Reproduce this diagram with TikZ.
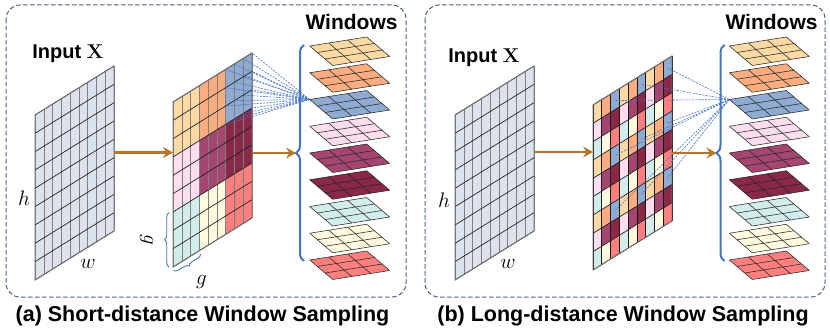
\RequirePackage{fix-cm}
\documentclass[tikz,border=0pt]{standalone}
\usepackage[no-math]{fontspec}
\usetikzlibrary{arrows.meta,decorations.pathreplacing}
\newfontfamily\lsans{Liberation Sans}
\definecolor{w0}{HTML}{FDD9A3}
\definecolor{w1}{HTML}{FBAD80}
\definecolor{w2}{HTML}{90ABD2}
\definecolor{w3}{HTML}{FEDDEE}
\definecolor{w4}{HTML}{A54671}
\definecolor{w5}{HTML}{8A2848}
\definecolor{w6}{HTML}{D3EDEC}
\definecolor{w7}{HTML}{FFFADF}
\definecolor{w8}{HTML}{FF7F7F}
\definecolor{win}{HTML}{DDE3EE}
\definecolor{arrowc}{HTML}{B5762C}
\definecolor{braceb}{HTML}{4472C4}
\definecolor{framec}{HTML}{4A5E85}
\def\cw{8.778}
\def\sk{5.444}
\def\rh{18.333}
% grid: #1,#2 top-left corner, #3 colour mode (0 input, 1 blocks, 2 strided), #4 style of vertical lines
\newcommand\mygrid[4]{%
  \foreach \r in {0,...,8}{\foreach \c in {0,...,8}{%
    \ifcase#3\relax \def\k{in}\or
      \pgfmathtruncatemacro\k{3*int(\r/3)+int(\c/3)}\or
      \pgfmathtruncatemacro\k{3*mod(\r,3)+mod(\c,3)}\fi
    \fill[w\k] (#1+\c*\cw, #2-\c*\sk+\r*\rh) -- ++(\cw,-\sk) -- ++(0,\rh) -- ++(-\cw,\sk) -- cycle;
  }}%
  \foreach \i in {0,...,9}{%
    \draw[#4] (#1+\i*\cw, #2-\i*\sk) -- ++(0,9*\rh);
  }%
  \foreach \i in {0,...,9}{%
    \draw[hline] (#1, #2+\i*\rh) -- ++(9*\cw,-9*\sk);
  }%
  \draw[gborder] (#1,#2) -- ++(9*\cw,-9*\sk) -- ++(0,9*\rh) -- ++(-9*\cw,9*\sk) -- cycle;
}
% window tile: #1,#2 left vertex, #3 colour
\newcommand\mytile[3]{%
  \fill[#3] (#1,#2) -- ++(57,-9) -- ++(23,19.5) -- ++(-57,9) -- cycle;
  \foreach \i in {0,...,3}{%
    \draw[tline] (#1+\i*19, #2-\i*3) -- ++(23,19.5);
    \draw[tline] (#1+\i*23/3, #2+\i*6.5) -- ++(57,-9);
  }%
}
\tikzset{
  vline/.style={line width=0.55pt, draw=black!50},
  hline/.style={line width=0.65pt, draw=black!90},
  gbline/.style={line width=0.7pt, draw=black!90},
  gborder/.style={line width=0.9pt, draw=black!55},
  tline/.style={line width=0.55pt, draw=black!85},
  arrowstyle/.style={draw=arrowc, line width=2.4pt, -{Stealth[length=10pt,width=11pt,inset=3.5pt]}},
  dl/.style={draw=braceb, line width=0.6pt, dash pattern=on 2pt off 1.2pt},
  bigbrace/.style={draw=braceb, line width=2pt, decorate, decoration={brace, amplitude=8pt}},
  smallbrace/.style={draw=braceb, line width=0.9pt, decorate, decoration={brace, amplitude=4.5pt}},
  paneframe/.style={draw=framec, line width=1pt, dash pattern=on 4.5pt off 2.5pt, rounded corners=14pt},
  lbl/.style={font=\lsans\bfseries\fontsize{20}{20}\selectfont, inner sep=0pt, anchor=base},
  wlbl/.style={font=\lsans\bfseries\fontsize{21}{21}\selectfont, inner sep=0pt, anchor=base},
  capstyle/.style={font=\lsans\bfseries\fontsize{21.5}{21.5}\selectfont, inner sep=0pt, anchor=base},
  ml/.style={font=\fontsize{21}{21}\selectfont, inner sep=0pt}
}
\begin{document}
\begin{tikzpicture}[x=1pt,y=-1pt]
\useasboundingbox (0,0) rectangle (830,334);
% frames
\draw[paneframe] (6,5) rectangle (406,297);
\draw[paneframe] (425,5) rectangle (825,297);
% ---------------- panel (a) ----------------
\mygrid{35}{115}{0}{vline}
\mygrid{173}{102}{1}{vline}
\foreach \k in {0,...,8}{\coordinate (ta\k) at (309.7,46+26.75*\k);}
\foreach \r in {0,...,3}{\foreach \c in {6,...,9}{%
  \coordinate (va-\r-\c) at (173+\c*\cw, 102-\c*\sk+\r*\rh);
  \draw[dl] (ta2) -- (va-\r-\c);
}}
\foreach \k in {0,...,8}{\mytile{309.7}{46+26.75*\k}{w\k}}
\coordinate (ina) at (114,152.5);
\coordinate (mida-w) at (173,152.5);
\coordinate (mida-e) at (252,153);
\coordinate (bra) at (296,153);
\coordinate (bra-b) at (304,261);
\coordinate (bra-t) at (304,45);
\draw[arrowstyle] (ina) -- (mida-w);
\draw[arrowstyle] (mida-e) -- (bra);
\draw[bigbrace] (bra-b) -- (bra-t);
\coordinate (ga1) at (169,267);
\coordinate (ga2) at (169,212.5);
\draw[smallbrace] (ga1) -- (ga2);
\coordinate (gb1) at (200.5,254);
\coordinate (gb2) at (173.5,270.5);
\draw[smallbrace] (gb1) -- (gb2);
\node[ml, rotate=-90] (gva) at (146.5,240) {$g$};
\node[ml] (gha) at (201.5,282) {$g$};
\node[lbl] (inXa) at (68,58.5) {Input $\mathbf{X}$};
\node[wlbl] (wina) at (351.5,30) {Windows};
\node[ml] (ha) at (24,198.5) {$h$};
\node[ml] (wa) at (88,264) {$w$};
\node[capstyle] (capa) at (202.5,321.5) {(a) Short-distance Window Sampling};
% ---------------- panel (b) ----------------
\mygrid{455}{115}{0}{vline}
\mygrid{593}{105}{2}{gbline}
\foreach \k in {0,...,8}{\coordinate (tb\k) at (729.3,46+26.75*\k);}
\foreach \r in {0,3,6}{\foreach \c in {2,5,8}{%
  \coordinate (cb-\r-\c) at (593+\c*\cw+0.5*\cw, 105-\c*\sk-0.5*\sk+\r*\rh+0.5*\rh);
  \draw[dl] (tb2) -- (cb-\r-\c);
}}
\foreach \k in {0,...,8}{\mytile{729.3}{46+26.75*\k}{w\k}}
\coordinate (inb) at (534,152);
\coordinate (midb-w) at (593,152);
\coordinate (midb-e) at (672,153);
\coordinate (brb) at (716.5,153);
\coordinate (brb-b) at (724.5,261);
\coordinate (brb-t) at (724.5,45);
\draw[arrowstyle] (inb) -- (midb-w);
\draw[arrowstyle] (midb-e) -- (brb);
\draw[bigbrace] (brb-b) -- (brb-t);
\node[lbl] (inXb) at (484,63) {Input $\mathbf{X}$};
\node[wlbl] (winb) at (771.5,30) {Windows};
\node[ml] (hb) at (444,200.5) {$h$};
\node[ml] (wb) at (508,264) {$w$};
\node[capstyle] (capb) at (623,321.5) {(b) Long-distance Window Sampling};
\end{tikzpicture}
\end{document}
